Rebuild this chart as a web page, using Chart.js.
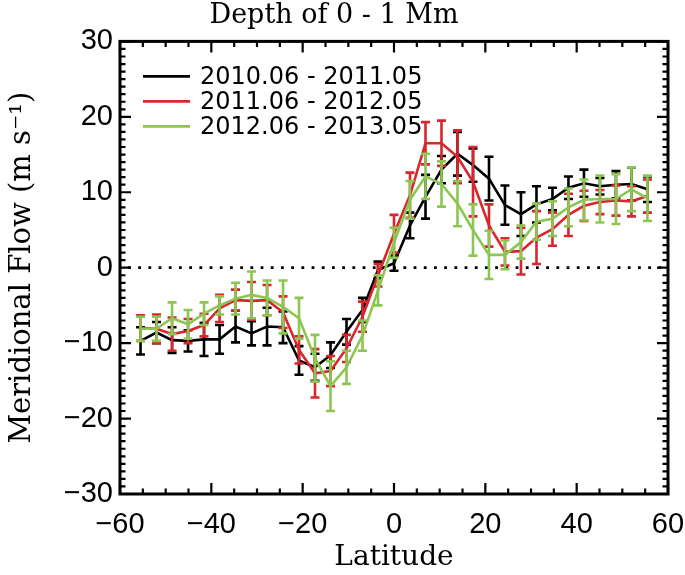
<!DOCTYPE html>
<html>
<head>
<meta charset="utf-8">
<script src="https://cdn.jsdelivr.net/npm/chart.js@4"></script>
<style>
  body { margin: 0; background: #fff; }
</style>
</head>
<body>
<canvas id="flowChart" width="685" height="575"></canvas>
<script>
// latitude bins (deg)
const latitudes = [-55.5, -52.0, -48.6, -45.1, -41.6, -38.2, -34.7, -31.2, -27.8, -24.3, -20.8,
    -17.3, -13.9, -10.4, -6.9, -3.5, 0, 3.5, 6.9, 10.4, 13.9, 17.3, 20.8, 24.3, 27.8, 31.2,
    34.7, 38.2, 41.6, 45.1, 48.6, 52.0, 55.5];

// meridional flow (m/s) and errors for each period
const flow2010 = [-9.7, -8.6, -9.6, -9.7, -9.5, -9.5, -7.8, -8.7, -7.8, -7.9, -12.3,
    -13.2, -11.6, -8.5, -5.6, -0.3, 0.6, 5.6, 9.4, 13.0, 15.1, 13.6, 11.8, 8.3, 7.1, 8.4,
    9.1, 10.6, 11.2, 10.8, 11.0, 11.1, 10.4];
const err2010 = [1.8, 1.4, 1.7, 1.4, 2.2, 1.9, 2.1, 1.6, 2.5, 2.1, 1.9,
    1.8, 1.7, 1.7, 1.6, 1.1, 1.0, 1.7, 2.9, 1.8, 2.9, 2.2, 2.9, 2.6, 2.9, 2.4,
    1.5, 1.5, 1.8, 1.1, 1.8, 2.2, 1.7];

const flow2011 = [-8.0, -8.1, -8.8, -8.4, -7.6, -5.4, -4.3, -4.4, -4.3, -5.9, -10.9,
    -14.0, -13.7, -10.7, -6.5, -1.0, 4.5, 9.6, 16.5, 16.5, 14.7, 11.4, 5.6, 2.1, 2.2, 4.0,
    5.1, 7.0, 8.2, 8.7, 8.9, 8.8, 9.5];
const err2011 = [1.7, 1.9, 2.2, 1.6, 1.5, 1.8, 1.4, 2.5, 2.0, 2.1, 1.8,
    3.2, 2.0, 1.8, 2.0, 1.5, 2.5, 3.0, 2.8, 3.0, 3.5, 4.6, 2.8, 1.8, 3.1, 3.5,
    2.2, 2.8, 2.0, 1.6, 2.0, 2.0, 2.2];

const flow2012 = [-8.1, -8.1, -6.7, -7.5, -6.1, -5.0, -4.1, -3.6, -4.0, -5.2, -6.7,
    -12.0, -15.7, -13.2, -9.0, -3.0, 3.3, 9.0, 12.1, 11.1, 8.5, 5.0, 1.7, 1.7, 3.4, 6.1,
    6.5, 8.0, 9.0, 9.1, 9.1, 10.4, 9.2];
const err2012 = [1.6, 1.6, 2.1, 1.9, 1.5, 1.2, 2.1, 3.1, 2.3, 3.5, 2.7,
    3.1, 3.3, 2.2, 2.0, 2.0, 2.0, 2.5, 3.0, 3.0, 3.0, 3.4, 3.2, 1.9, 2.2, 2.4,
    2.3, 2.5, 2.7, 3.1, 3.3, 2.9, 3.0];

const seriesLabels = ['2010.06 - 2011.05', '2011.06 - 2012.05', '2012.06 - 2013.05'];
const seriesColors = ['#000000', '#d8262c', '#8cc652'];

function points(vals) {
    return latitudes.map((lat, i) => ({ x: lat, y: vals[i] }));
}

function minusLabel(v) {
    return v < 0 ? '\u2212' + Math.abs(v) : String(v);
}

// dotted zero line, error bars, inward ticks, frame and legend
const decorations = {
    id: 'decorations',
    beforeDatasetsDraw(chart) {
        const { ctx, chartArea: a, scales: { y } } = chart;
        const y0 = y.getPixelForValue(0);
        ctx.save();
        ctx.strokeStyle = '#000';
        ctx.lineWidth = 2.8;
        ctx.setLineDash([2.8, 7.4]);
        ctx.beginPath();
        ctx.moveTo(a.left + 8, y0);
        ctx.lineTo(a.right, y0);
        ctx.stroke();
        ctx.restore();
    },
    afterDatasetDraw(chart, args) {
        const ds = chart.data.datasets[args.index];
        const { ctx, scales: { x, y } } = chart;
        ctx.save();
        ctx.strokeStyle = ds.borderColor;
        ctx.lineWidth = 2.6;
        ds.data.forEach((p, i) => {
            const px = x.getPixelForValue(p.x);
            const top = y.getPixelForValue(p.y + ds.err[i]);
            const bot = y.getPixelForValue(p.y - ds.err[i]);
            ctx.beginPath();
            ctx.moveTo(px, top); ctx.lineTo(px, bot);
            ctx.moveTo(px - 4.5, top); ctx.lineTo(px + 4.5, top);
            ctx.moveTo(px - 4.5, bot); ctx.lineTo(px + 4.5, bot);
            ctx.stroke();
        });
        ctx.restore();
    },
    afterDraw(chart) {
        const { ctx, chartArea: a, scales: { x, y } } = chart;
        ctx.save();
        ctx.strokeStyle = '#000';
        ctx.lineWidth = 3;
        ctx.strokeRect(a.left, a.top, a.right - a.left, a.bottom - a.top);

        ctx.lineWidth = 2.2;
        ctx.beginPath();
        for (let v = -60; v <= 60; v += 5) {
            const px = x.getPixelForValue(v);
            const len = v % 20 === 0 ? 11 : 5.5;
            ctx.moveTo(px, a.bottom); ctx.lineTo(px, a.bottom - len);
            ctx.moveTo(px, a.top); ctx.lineTo(px, a.top + len);
        }
        for (let v = -30; v <= 30; v += 1) {
            const py = y.getPixelForValue(v);
            const len = v % 10 === 0 ? 11 : 5.5;
            ctx.moveTo(a.left, py); ctx.lineTo(a.left + len, py);
            ctx.moveTo(a.right, py); ctx.lineTo(a.right - len, py);
        }
        ctx.stroke();

        // legend
        ctx.font = '24px "DejaVu Sans"';
        ctx.textBaseline = 'middle';
        ctx.fillStyle = '#000';
        chart.data.datasets.forEach((ds, i) => {
            const ly = a.top + 35 + i * 25;
            ctx.strokeStyle = ds.borderColor;
            ctx.lineWidth = 2.6;
            ctx.beginPath();
            ctx.moveTo(a.left + 23, ly); ctx.lineTo(a.left + 70, ly);
            ctx.stroke();
            ctx.fillText(ds.label, a.left + 80, ly + 1);
        });
        ctx.restore();
    }
};

const errors = [err2010, err2011, err2012];
const flows = [flow2010, flow2011, flow2012];

new Chart(document.getElementById('flowChart'), {
    type: 'line',
    data: {
        datasets: flows.map((vals, i) => ({
            label: seriesLabels[i],
            data: points(vals),
            err: errors[i],
            borderColor: seriesColors[i],
            borderWidth: 2.6,
            pointRadius: 0,
            tension: 0,
            fill: false,
            order: 3 - i
        }))
    },
    options: {
        responsive: false,
        animation: false,
        layout: { padding: { top: 0, right: 17, bottom: 0, left: 0 } },
        plugins: {
            legend: { display: false },
            tooltip: { enabled: false },
            title: {
                display: true,
                text: 'Depth of 0 - 1 Mm',
                color: '#000',
                font: { family: 'DejaVu Serif', size: 27, weight: 'normal' },
                padding: { top: 0, bottom: 9 }
            }
        },
        scales: {
            x: {
                type: 'linear',
                min: -60,
                max: 60,
                grid: { display: false, drawTicks: false },
                border: { display: false },
                ticks: {
                    stepSize: 20,
                    color: '#000',
                    padding: 14,
                    maxRotation: 0,
                    font: { family: 'Liberation Sans', size: 29 },
                    callback: minusLabel
                },
                title: {
                    display: true,
                    text: 'Latitude',
                    color: '#000',
                    font: { family: 'DejaVu Serif', size: 28 },
                    padding: { top: 0, bottom: 0 }
                },
                afterFit(scale) {
                    scale.height = 81;
                    scale.paddingLeft = 0;
                    scale.paddingRight = 0;
                }
            },
            y: {
                type: 'linear',
                min: -30,
                max: 30,
                grid: { display: false, drawTicks: false },
                border: { display: false },
                ticks: {
                    stepSize: 10,
                    color: '#000',
                    padding: 7,
                    font: { family: 'Liberation Sans', size: 29 },
                    callback: minusLabel
                },
                title: {
                    display: true,
                    text: 'Meridional Flow (m s\u207B\u00B9)',
                    color: '#000',
                    font: { family: 'DejaVu Serif', size: 29 },
                    padding: { top: 5, bottom: 0 }
                },
                afterFit(scale) {
                    scale.width = 120;
                    scale.paddingTop = 0;
                    scale.paddingBottom = 0;
                }
            }
        }
    },
    plugins: [decorations]
});
</script>
</body>
</html>
